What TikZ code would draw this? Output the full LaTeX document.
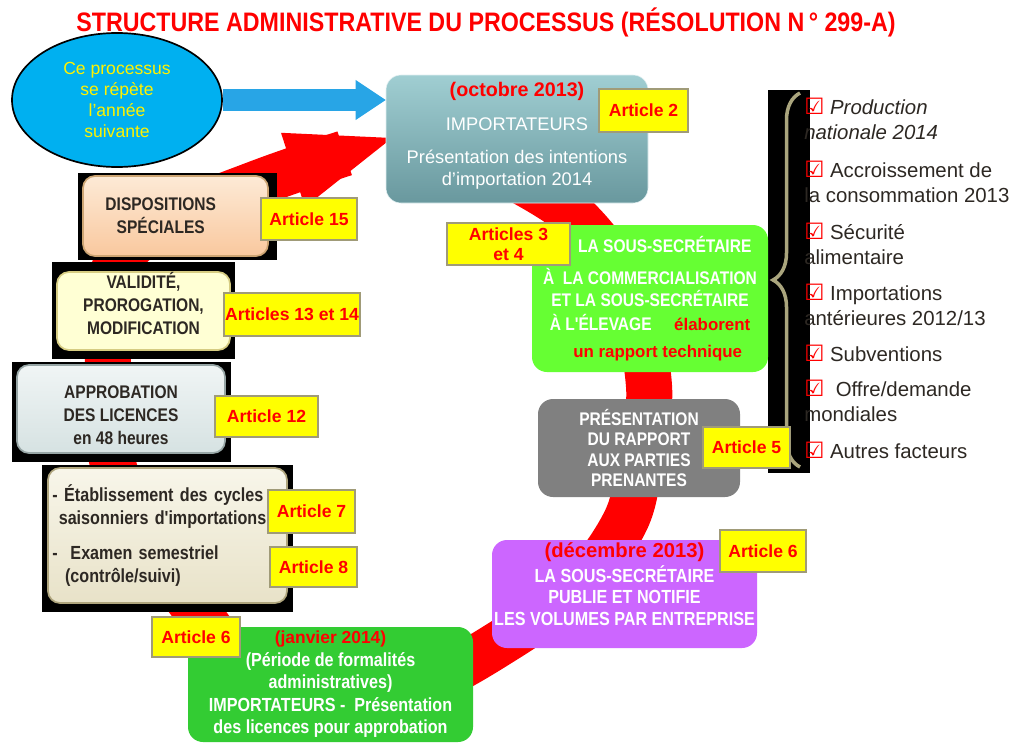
\documentclass[tikz,border=0pt]{standalone}
\usepackage{fontspec}
\setmainfont{Liberation Sans}
\newfontfamily\condfont{Liberation Sans}[FakeStretch=0.85]
\newfontfamily\titlefont{Liberation Sans}[FakeStretch=0.87]
\newfontfamily\dejavu{DejaVu Sans}
\usetikzlibrary{arrows.meta,shapes,decorations.pathreplacing}

\definecolor{bandred}{RGB}{255,0,0}
\definecolor{skyblue}{RGB}{0,176,240}
\definecolor{arrblue}{RGB}{40,165,230}
\definecolor{labedge}{RGB}{160,155,120}
\definecolor{labyell}{RGB}{255,255,0}
\definecolor{impt}{RGB}{160,206,210}
\definecolor{impb}{RGB}{105,152,158}
\definecolor{limeg}{RGB}{102,255,51}
\definecolor{grayb}{RGB}{128,128,128}
\definecolor{purp}{RGB}{204,102,255}
\definecolor{leaf}{RGB}{51,204,51}
\definecolor{peacht}{RGB}{253,234,214}
\definecolor{peachb}{RGB}{249,200,158}
\definecolor{peache}{RGB}{205,165,115}
\definecolor{creamf}{RGB}{255,255,212}
\definecolor{creame}{RGB}{214,204,130}
\definecolor{icet}{RGB}{240,245,245}
\definecolor{iceb}{RGB}{214,226,226}
\definecolor{icee}{RGB}{150,165,165}
\definecolor{beiget}{RGB}{248,246,234}
\definecolor{beigeb}{RGB}{232,226,200}
\definecolor{beigee}{RGB}{175,165,125}
\definecolor{txtdark}{RGB}{45,40,35}
\definecolor{bracec}{RGB}{170,165,125}

\newcommand{\ckbox}{{\dejavu\bfseries\fontsize{16}{16}\selectfont\textcolor{red}{☑}}}
\newcommand{\datetxt}[2][14]{{\normalfont\bfseries\fontsize{#1}{#1}\selectfont\color{red}#2}}

\tikzset{
  wh/.style 2 args={minimum width=#1*0.025cm,minimum height=#2*0.025cm},
  band/.style={bandred,line width=1.15cm,-{Triangle[length=2.6cm,width=1.95cm,line width=0pt]}},
  cbox/.style={rounded corners=0.375cm,inner sep=0pt,align=center,text=white,font=\condfont\bfseries\fontsize{13}{15.6}\selectfont},
  lbox/.style={rounded corners=0.3cm,line width=1.2pt,inner sep=0pt,align=center,text=txtdark,font=\condfont\bfseries\fontsize{13}{16.4}\selectfont},
  lab/.style={draw=labedge,line width=2pt,fill=labyell,text=red,inner sep=0pt,align=center,font=\bfseries\fontsize{12.5}{14}\selectfont},
  fitem/.style={anchor=west,align=left,inner sep=0pt,text=txtdark,font=\fontsize{14.5}{17.8}\selectfont},
  fbrace/.style={draw=bracec,line width=2.5pt,decorate,decoration={brace,amplitude=0.675cm}}
}

\begin{document}
\begin{tikzpicture}[x=0.025cm,y=-0.025cm]
\useasboundingbox (0,0) rectangle (1016,743);
\fill[white] (0,0) rectangle (1016,743);

% red cycle
\coordinate (tip) at (392,138);
\draw[band] plot[smooth,tension=0.55] coordinates {(490,165) (572,214) (628,290) (649,386) (640,460) (626,520) (580,585) (505,640) (420,685) (320,700) (245,668) (200,615) (140,530) (110,450) (108,350) (112,275) (140,238) (195,208) (250,186) (300,168) (tip)};

% factors
\fill (768,90) rectangle (810,473);
\draw[fbrace] (800,467) -- (800,93);

\node[draw,ellipse,line width=1.2pt,fill=skyblue,text=yellow,wh={210}{134},inner sep=0pt,align=center,font=\fontsize{12.5}{15}\selectfont] (ell) at (117,100) {Ce processus\\ se répète\\ l'année\\ suivante};

\node[text=red,inner sep=0pt,anchor=base,font=\titlefont\bfseries\fontsize{19}{20}\selectfont] (title) at (486,31) {STRUCTURE ADMINISTRATIVE DU PROCESSUS (RÉSOLUTION N\,°\ 299-A)};

\node[cbox,wh={262}{128},top color=impt,bottom color=impb,draw=white!70!impt,text depth=8pt,font=\fontsize{13}{15.6}\selectfont] (imp) at (517,139)
  {\datetxt{(octobre 2013)}\\[9pt] IMPORTATEURS\\[7.5pt] Présentation des intentions\\ d'importation 2014};
\node[cbox,wh={236}{147},fill=limeg] (sous) at (650,298.5)
  {\hspace*{21pt}LA SOUS-SECRÉTAIRE\\[7pt] À\ \ LA COMMERCIALISATION\\ ET LA SOUS-SECRÉTAIRE\\[1.4pt] À L'ÉLEVAGE\quad\ \textcolor{red}{\normalfont\bfseries\fontsize{12}{15.6}\selectfont élaborent}\\[3.5pt] \hspace*{11pt}\textcolor{red}{\normalfont\bfseries\fontsize{12}{15.6}\selectfont un rapport technique}};
\node[cbox,wh={202}{98},fill=grayb,font=\condfont\bfseries\fontsize{13}{14.6}\selectfont] (pres) at (639,448)
  {PRÉSENTATION\\ DU RAPPORT\\ AUX PARTIES\\ PRENANTES};
\node[cbox,wh={265}{108},fill=purp,text depth=14pt,font=\condfont\bfseries\fontsize{13.5}{15.6}\selectfont] (publ) at (624.5,594)
  {\datetxt[14.4]{(décembre 2013)}\\[2pt] LA SOUS-SECRÉTAIRE\\ PUBLIE ET NOTIFIE\\ LES VOLUMES PAR ENTREPRISE};
\node[cbox,wh={285}{115},fill=leaf,font=\condfont\bfseries\fontsize{13.5}{16}\selectfont] (janv) at (330.5,684.5)
  {\datetxt[12.4]{(janvier 2014)}\\ (Période de formalités\\ administratives)\hspace*{31pt}\\ IMPORTATEURS -\ \ Présentation\\ des licences pour approbation};

% left column
\fill (78,173) rectangle (277,260);
\fill (52,262) rectangle (235,359);
\fill (12,362) rectangle (231,462);
\fill (42,465) rectangle (293,612);
\node[lbox,wh={185}{80},top color=peacht,bottom color=peachb,draw=peache] (disp) at (175.5,216)
  {DISPOSITIONS\hspace*{21pt}\\ SPÉCIALES\hspace*{21pt}};
\node[lbox,wh={173}{78},fill=creamf,draw=creame,text depth=11pt] (vali) at (143.5,311)
  {VALIDITÉ,\\ PROROGATION,\\ MODIFICATION};
\node[lbox,wh={208}{88},top color=icet,bottom color=iceb,draw=icee,text height=51pt] (appr) at (121,409)
  {APPROBATION\\ DES LICENCES\\ en 48 heures};
\node[lbox,wh={239}{135},top color=beiget,bottom color=beigeb,draw=beigee,align=left,text width=5.75cm,font=\condfont\bfseries\fontsize{13.5}{16.4}\selectfont] (etab) at (167.5,535.5)
  {- Établissement des cycles\\ \ saisonniers d'importations\\[8pt] -\ \ Examen semestriel\\ \ \ (contrôle/suivi)};

\draw[arrblue,line width=0.525cm,-{Triangle[length=0.75cm,width=1cm,line width=0pt]}] (ell.east) -- (ell.east -| imp.west);

% article labels
\node[lab,wh={89}{43}] (art2) at (643.5,110.5) {Article 2};
\node[lab,wh={123}{42}] (art34) at (508.5,244) {Articles 3\\ et 4};
\node[lab,wh={87}{41}] (art5) at (746.5,447.5) {Article 5};
\node[lab,wh={86}{42}] (art6b) at (763,551) {Article 6};
\node[lab,wh={88}{40}] (art6a) at (196,637) {Article 6};
\node[lab,wh={96}{42}] (art15) at (309,219) {Article 15};
\node[lab,wh={136}{43}] (art1314) at (292,314.5) {Articles 13 et 14};
\node[lab,wh={103}{41}] (art12) at (266.5,416.5) {Article 12};
\node[lab,wh={87}{43}] (art7) at (311.5,511.5) {Article 7};
\node[lab,wh={87}{40}] (art8) at (313.5,567) {Article 8};

% factor list
\node[fitem] (f1) at (804,118.5) {\ckbox\ \textit{Production}\\\textit{nationale 2014}};
\node[fitem] (f2) at (804,181.5) {\ckbox\ Accroissement de\\la consommation 2013};
\node[fitem] (f3) at (804,243.5) {\ckbox\ Sécurité\\alimentaire};
\node[fitem] (f4) at (804,304.5) {\ckbox\ Importations\\antérieures 2012/13};
\node[fitem] (f5) at (804,353) {\ckbox\ Subventions};
\node[fitem] (f6) at (804,400.5) {\ckbox\ \ Offre/demande\\mondiales};
\node[fitem] (f7) at (804,450) {\ckbox\ Autres facteurs};
\end{tikzpicture}
\end{document}
